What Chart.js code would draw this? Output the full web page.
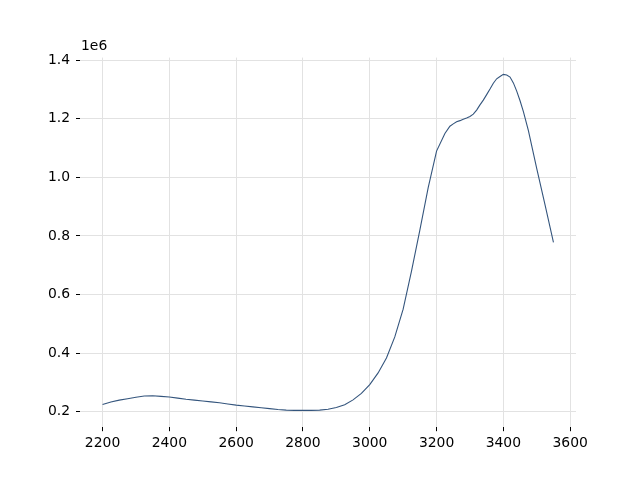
<!DOCTYPE html>
<html>
<head>
<meta charset="utf-8">
<script src="https://cdn.jsdelivr.net/npm/chart.js@4/dist/chart.umd.min.js"></script>
<style>
  html, body { margin: 0; padding: 0; background: #fff; }
  #wrap { width: 640px; height: 480px; }
</style>
</head>
<body>
<div id="wrap"><canvas id="chart" width="640" height="480"></canvas></div>
<script>
// ─── Data ────────────────────────────────────────────────────────────────────

const wavenumbers = [
  2200, 2225, 2250, 2275, 2300, 2325, 2350, 2375, 2400, 2425,
  2450, 2475, 2500, 2525, 2550, 2575, 2600, 2625, 2650, 2675,
  2700, 2725, 2750, 2775, 2800, 2825, 2850, 2875, 2900, 2925,
  2950, 2975, 3000, 3025, 3050, 3075, 3100, 3125, 3150, 3175,
  3200, 3225, 3240, 3250, 3260, 3270, 3280, 3290, 3300, 3310,
  3320, 3330, 3340, 3350, 3360, 3370, 3380, 3390, 3400, 3410,
  3420, 3430, 3440, 3450, 3460, 3475, 3500, 3525, 3550
];

const intensity = [
  224000, 233000, 239000, 244000, 249000, 253000, 254000, 252000, 250000, 246000,
  242000, 239000, 236000, 233000, 230000, 226000, 222000, 219000, 216000, 213000,
  210000, 207000, 205000, 204000, 204000, 204000, 205000, 208000, 214000, 223000,
  240000, 262000, 292000, 332000, 383000, 455000, 550000, 680000, 820000, 965000,
  1090000, 1150000, 1175000, 1183000, 1190000, 1194000, 1199000, 1203000, 1208000, 1216000,
  1230000, 1248000, 1264000, 1283000, 1302000, 1322000, 1337000, 1345000, 1352000, 1350000,
  1343000, 1323000, 1295000, 1262000, 1225000, 1160000, 1030000, 905000, 778000
];

const xTicks = [2200, 2400, 2600, 2800, 3000, 3200, 3400, 3600];
const yTicks = [200000, 400000, 600000, 800000, 1000000, 1200000, 1400000];

// ─── Styling ─────────────────────────────────────────────────────────────────

const FONT = "'DejaVu Sans', sans-serif";
const GRID = '#e2e2e2';
const LINE = '#34557d';

function axisRange(vals) {
  const lo = Math.min(...vals), hi = Math.max(...vals);
  const pad = (hi - lo) * 0.05;
  return { min: lo - pad, max: hi + pad };
}

const xr = axisRange(wavenumbers);
const yr = axisRange(intensity);

// matplotlib-like offset label above the y axis
const offsetLabel = {
  id: 'offsetLabel',
  afterDraw(chart) {
    const { ctx, chartArea } = chart;
    ctx.save();
    ctx.font = `13.9px ${FONT}`;
    ctx.fillStyle = '#000';
    ctx.textAlign = 'left';
    ctx.textBaseline = 'bottom';
    ctx.fillText('1e6', chartArea.left + 1, chartArea.top - 4);
    ctx.restore();
  }
};

new Chart(document.getElementById('chart'), {
  type: 'line',
  data: {
    datasets: [{
      data: wavenumbers.map((x, i) => ({ x, y: intensity[i] })),
      borderColor: LINE,
      borderWidth: 1.1,
      pointRadius: 0,
      tension: 0,
      fill: false,
    }]
  },
  options: {
    responsive: false,
    animation: false,
    devicePixelRatio: 1,
    layout: { padding: { left: 0, right: 64, top: 57.6, bottom: 0 } },
    plugins: {
      legend: { display: false },
      tooltip: { enabled: false },
    },
    scales: {
      x: {
        type: 'linear',
        min: xr.min,
        max: xr.max,
        border: { display: false },
        grid: { color: GRID, lineWidth: 1, tickLength: 4, tickColor: '#000', tickWidth: 1 },
        ticks: {
          font: { family: FONT, size: 13.9 }, color: '#000', padding: 4, maxRotation: 0,
          callback: v => String(v),
        },
        afterBuildTicks: s => { s.ticks = xTicks.map(v => ({ value: v })); },
        afterFit: s => { s.height = 52.8; },
      },
      y: {
        type: 'linear',
        min: yr.min,
        max: yr.max,
        border: { display: false },
        grid: { color: GRID, lineWidth: 1, tickLength: 4, tickColor: '#000', tickWidth: 1 },
        ticks: {
          font: { family: FONT, size: 13.9 }, color: '#000', padding: 6,
          callback: v => (v / 1e6).toFixed(1),
        },
        afterBuildTicks: s => { s.ticks = yTicks.map(v => ({ value: v })); },
        afterFit: s => { s.width = 80; },
      }
    }
  },
  plugins: [offsetLabel]
});
</script>
</body>
</html>
